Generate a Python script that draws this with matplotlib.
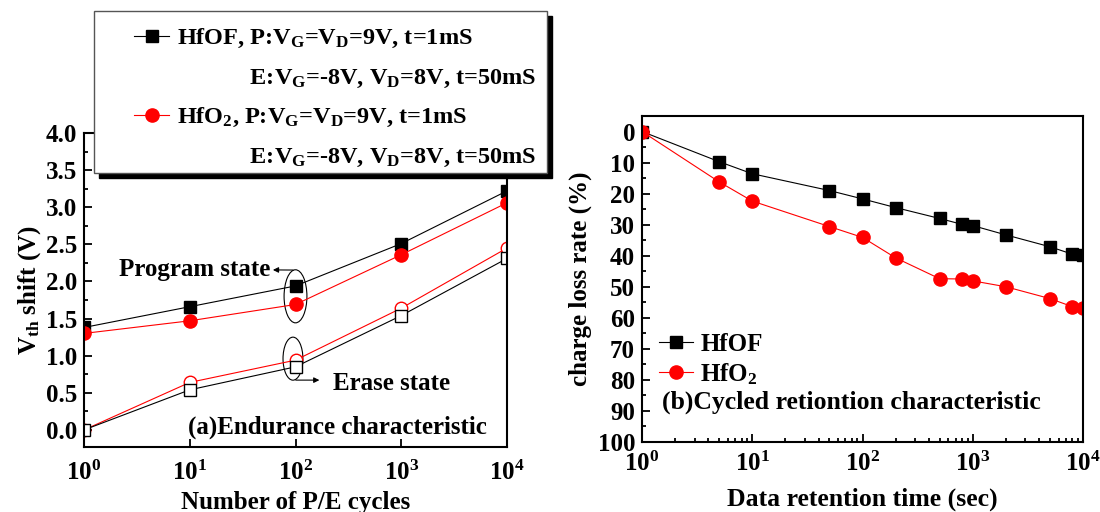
import numpy as np
import matplotlib
matplotlib.use('Agg')
import matplotlib.pyplot as plt
from matplotlib.patches import Ellipse, Rectangle
from matplotlib.lines import Line2D
from matplotlib.ticker import MultipleLocator, NullLocator, LogLocator, FormatStrFormatter

plt.rcParams['font.family'] = 'Liberation Serif'
plt.rcParams['font.weight'] = 'bold'
plt.rcParams['axes.labelweight'] = 'bold'
plt.rcParams['mathtext.fontset'] = 'custom'
plt.rcParams['mathtext.rm'] = 'Liberation Serif:bold'
plt.rcParams['mathtext.it'] = 'Liberation Serif:bold'
plt.rcParams['mathtext.bf'] = 'Liberation Serif:bold'
plt.rcParams['axes.linewidth'] = 1.5

# (a) endurance data
cycles = [1, 10, 100, 1000, 10000]
hfof_prog = [1.38, 1.66, 1.94, 2.51, 3.22]
hfo2_prog = [1.30, 1.47, 1.69, 2.36, 3.06]
hfof_erase = [0.0, 0.54, 0.85, 1.54, 2.31]
hfo2_erase = [0.0, 0.64, 0.94, 1.64, 2.45]

# (b) retention data
ret_time = [1, 5, 10, 50, 100, 200, 500, 800, 1000, 2000, 5000, 8000, 10000]
hfof_loss = [0, 9.7, 13.6, 19.0, 21.7, 24.5, 28.0, 29.9, 30.3, 33.3, 37.1, 39.5, 39.9]
hfo2_loss = [0, 16.2, 22.4, 30.6, 34.1, 40.7, 47.4, 47.5, 48.1, 50.0, 53.8, 56.4, 56.9]

W, H = 1100, 512
fig = plt.figure(figsize=(11, 5.12), dpi=100)

def px_axes(l, r, t, b):
    return fig.add_axes([l / W, 1 - b / H, (r - l) / W, (b - t) / H])

def style_ticks(ax, xpad):
    ax.tick_params(which='both', direction='in', width=1.3, labelsize=18)
    ax.tick_params(which='major', length=6)
    ax.tick_params(which='minor', length=3)
    ax.tick_params(axis='x', pad=xpad)
    ax.tick_params(axis='y', pad=5)

# ---------- left plot ----------
ax1 = px_axes(84, 507, 133, 447)
ax1.plot(cycles, hfof_prog, '-s', color='black', lw=0.8, ms=8)
ax1.plot(cycles, hfo2_prog, '-o', color='red', lw=0.8, ms=9.5)
ax1.plot(cycles, hfo2_erase, '-o', color='red', mfc='white', mec='red', lw=0.8, ms=9)
ax1.plot(cycles, hfof_erase, '-s', color='black', mfc='white', mec='black', lw=0.8, ms=8)
ax1.set_xscale('log')
ax1.set_xlim(1, 1e4)
ax1.set_ylim(-0.23, 4.0)
ax1.xaxis.set_major_locator(LogLocator(base=10, numticks=10))
ax1.xaxis.set_minor_locator(NullLocator())
ax1.yaxis.set_major_locator(MultipleLocator(0.5))
ax1.yaxis.set_minor_locator(MultipleLocator(0.25))
ax1.yaxis.set_major_formatter(FormatStrFormatter('%.1f'))
style_ticks(ax1, 10)
ax1.set_xlabel('Number of P/E cycles', fontsize=18, labelpad=4)
ax1.set_ylabel(r'V$_{th}$ shift (V)', fontsize=18, labelpad=2)

ylo, yhi = ax1.get_ylim()
def yf(v):
    return (v - ylo) / (yhi - ylo)

xc = np.log10(100) / 4
ax1.add_patch(Ellipse((xc, yf(1.80)), 0.054, 0.169, transform=ax1.transAxes,
                      fill=False, ec='black', lw=0.8))
ax1.add_patch(Ellipse((xc - 0.006, yf(0.96)), 0.047, 0.137, transform=ax1.transAxes,
                      fill=False, ec='black', lw=0.8))
ax1.annotate('', xy=(0.44, 0.564), xytext=(0.501, 0.5635), xycoords='axes fraction',
             arrowprops=dict(arrowstyle='-|>', color='black', lw=0.8, mutation_scale=8))
ax1.text(0.44, 0.566, 'Program state', transform=ax1.transAxes, ha='right', va='center', fontsize=18)
ax1.annotate('', xy=(0.563, 0.213), xytext=(0.494, 0.213), xycoords='axes fraction',
             arrowprops=dict(arrowstyle='-|>', color='black', lw=0.8, mutation_scale=8))
ax1.text(0.588, 0.203, 'Erase state', transform=ax1.transAxes, ha='left', va='center', fontsize=18)
ax1.text(0.60, 0.062, '(a)Endurance characteristic', transform=ax1.transAxes,
         ha='center', va='center', fontsize=18)

# legend box with shadow
bx0, bx1, by0, by1 = 94, 547, 11, 173
fig.patches.append(Rectangle(((bx0 + 5) / W, 1 - (by1 + 5) / H), (bx1 - bx0) / W, (by1 - by0) / H,
                             transform=fig.transFigure, fc='black', ec='black', zorder=2))
fig.patches.append(Rectangle((bx0 / W, 1 - by1 / H), (bx1 - bx0) / W, (by1 - by0) / H,
                             transform=fig.transFigure, fc='white', ec='#555555', lw=1, zorder=3))

h_black = Line2D([], [], color='black', marker='s', lw=0.8, ms=8)
h_red = Line2D([], [], color='red', marker='o', lw=0.8, ms=9.5)
h_blank = Line2D([], [], color='none')
pad = ' ' * 12
labels = [r'HfOF, P:V$_G$=V$_D$=9V, t=1mS',
          pad + r'E:V$_G$=-8V, V$_D$=8V, t=50mS',
          r'HfO$_2$, P:V$_G$=V$_D$=9V, t=1mS',
          pad + r'E:V$_G$=-8V, V$_D$=8V, t=50mS']
leg1 = fig.legend([h_black, h_blank, h_red, h_blank], labels, loc='upper left',
                  bbox_to_anchor=(134 / W, 1 - 27 / H), frameon=False, fontsize=17.5,
                  borderpad=0, borderaxespad=0, handlelength=1.45, handletextpad=0.3,
                  labelspacing=0.68)
leg1.set_zorder(6)

# ---------- right plot ----------
ax2 = px_axes(642, 1083, 116, 442)
ax2.plot(ret_time, hfof_loss, '-s', color='black', lw=0.8, ms=8, label='HfOF')
ax2.plot(ret_time, hfo2_loss, '-o', color='red', lw=0.8, ms=9.5, label=r'HfO$_2$')
ax2.set_xscale('log')
ax2.set_xlim(1, 1e4)
ax2.set_ylim(100, -5)
ax2.xaxis.set_major_locator(LogLocator(base=10, numticks=10))
ax2.xaxis.set_minor_locator(LogLocator(base=10, subs=np.arange(2, 10), numticks=20))
ax2.yaxis.set_major_locator(MultipleLocator(10))
ax2.yaxis.set_minor_locator(MultipleLocator(5))
ax2.yaxis.set_major_formatter(FormatStrFormatter('%d'))
style_ticks(ax2, 7)
ax2.set_xlabel('Data retention time (sec)', fontsize=18.5, labelpad=8)
ax2.set_ylabel('charge loss rate (%)', fontsize=18, labelpad=4)
ax2.legend(loc='upper left', bbox_to_anchor=(659 / W, 1 - 333 / H), bbox_transform=fig.transFigure,
           frameon=False, fontsize=18, borderpad=0, borderaxespad=0, handlelength=1.35,
           handletextpad=0.3, labelspacing=0.2)
ax2.text(0.474, 0.123, '(b)Cycled retiontion characteristic', transform=ax2.transAxes,
         ha='center', va='center', fontsize=18.5)

fig.savefig('out.png', dpi=100)
